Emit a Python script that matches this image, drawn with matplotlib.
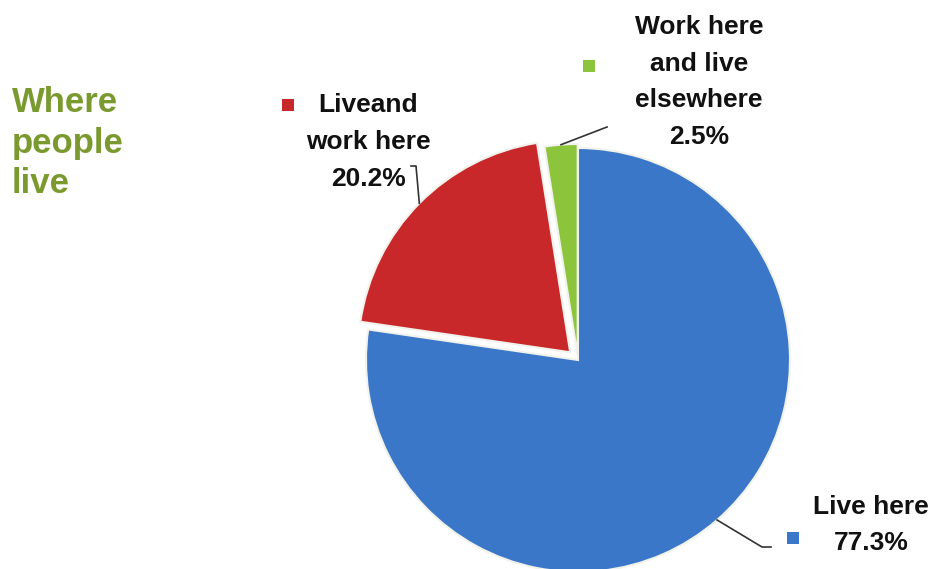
import matplotlib.pyplot as plt
import numpy as np

plt.rcParams['font.family'] = ['Liberation Sans', 'DejaVu Sans']

labels = ['Live here', 'Liveand\nwork here', 'Work here\nand live\nelsewhere']
shares = [77.3, 20.2, 2.5]
colors = ['#3b77c8', '#c9282b', '#8cc43c']
explode = [0, 11, 4]   # offsets in pixels

W, H = 933, 569
fig = plt.figure(figsize=(W / 100, H / 100), dpi=100)
ax = fig.add_axes([0, 0, 1, 1])

cx, cy, r = 578, H - 360, 212
wedges, _ = ax.pie(shares, colors=colors, explode=explode, startangle=90,
                   counterclock=False, center=(cx, cy), radius=r,
                   wedgeprops=dict(edgecolor='#f2f2ec', linewidth=1.5))
ax.set_xlim(0, W)
ax.set_ylim(0, H)
ax.set_aspect('equal')
ax.axis('off')

# label text, legend square and leader line per slice
lab_pos = [(871, H - 525), (368, H - 142), (699, H - 82)]
box_pos = [(793, H - 538), (288, H - 105), (589, H - 66)]
tails = [
    [(762, H - 547), (771, H - 547)],
    [(416, H - 166), (411, H - 166)],
    [(607, H - 127)],
]
rim_ang = [-49, None, None]
for i, w in enumerate(wedges):
    txt = '%s\n%.1f%%' % (labels[i], shares[i])
    ax.text(lab_pos[i][0], lab_pos[i][1], txt, ha='center', va='center',
            fontsize=19, fontweight='bold', color='#111111', linespacing=1.68)
    ax.scatter([box_pos[i][0]], [box_pos[i][1]], marker='s', s=85,
               color=colors[i], edgecolor='none')
    # leader starts on the wedge rim
    if rim_ang[i] is None:
        ang = np.deg2rad((w.theta1 + w.theta2) / 2)
    else:
        ang = np.deg2rad(rim_ang[i])
    wx, wy = w.center
    start = (wx + w.r * np.cos(ang), wy + w.r * np.sin(ang))
    xs, ys = zip(*([start] + tails[i]))
    ax.plot(xs, ys, color='#333333', lw=1.2)

fig.text(12 / W, 1 - 143 / H, 'Where\npeople\nlive', ha='left', va='center',
         fontsize=25, fontweight='bold', color='#7a9a30', linespacing=1.3)

fig.savefig('out.png', dpi=100, facecolor='white')
